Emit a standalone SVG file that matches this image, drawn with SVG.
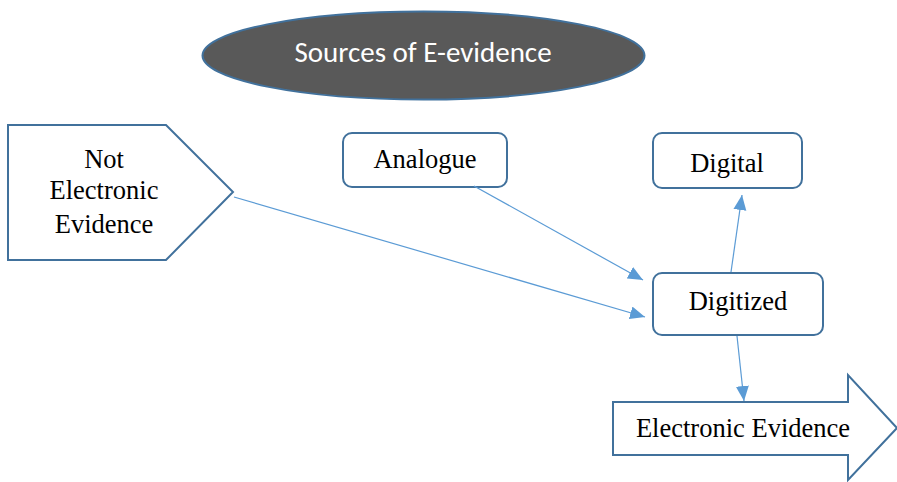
<svg xmlns="http://www.w3.org/2000/svg" width="897" height="482" viewBox="0 0 897 482">
<style>
.shape{fill:#fff;stroke:#41719c;stroke-width:2}
.t{font-family:"Liberation Serif","Times New Roman",serif;font-size:26.5px;fill:#000;text-anchor:middle}
.c{stroke:#5b9bd5;stroke-width:1.2;fill:none;marker-end:url(#ah)}
</style>
<defs>
<marker id="ah" markerUnits="userSpaceOnUse" markerWidth="16" markerHeight="14" refX="15" refY="6.5" orient="auto">
<path d="M0,0 L15,6.5 L0,13 Z" fill="#5b9bd5"/>
</marker>
</defs>
<rect width="897" height="482" fill="#fff"/>
<g id="title">
<ellipse cx="423.5" cy="55.5" rx="221" ry="44" fill="#595959" stroke="#41719c" stroke-width="2"/>
<text x="423" y="62" font-family="Carlito,'Open Sans','Liberation Sans',sans-serif" font-size="29" fill="#fff" text-anchor="middle">Sources of E-evidence</text>
</g>
<g id="not-electronic">
<path class="shape" d="M8,125 L166,125 L233,192 L166,260 L8,260 Z"/>
<text class="t" x="104" y="168">Not</text>
<text class="t" x="104" y="199">Electronic</text>
<text class="t" x="104" y="233">Evidence</text>
</g>
<g id="analogue">
<rect class="shape" x="343" y="133" width="164" height="54" rx="9"/>
<text class="t" x="425" y="168">Analogue</text>
</g>
<g id="digital">
<rect class="shape" x="653" y="133" width="149" height="55" rx="9"/>
<text class="t" x="727" y="172">Digital</text>
</g>
<g id="digitized">
<rect class="shape" x="653" y="273" width="170" height="62" rx="9"/>
<text class="t" x="738" y="310">Digitized</text>
</g>
<g id="electronic-evidence">
<path class="shape" d="M613,402 L848,402 L848,375 L897,428 L848,480 L848,455 L613,455 Z"/>
<text class="t" x="743" y="437">Electronic Evidence</text>
</g>
<g id="connectors">
<line class="c" x1="474" y1="186" x2="643" y2="280"/>
<line class="c" x1="234" y1="197" x2="645" y2="317"/>
<line class="c" x1="731" y1="272" x2="742" y2="195"/>
<line class="c" x1="737" y1="336" x2="744" y2="401"/>
</g>
</svg>
